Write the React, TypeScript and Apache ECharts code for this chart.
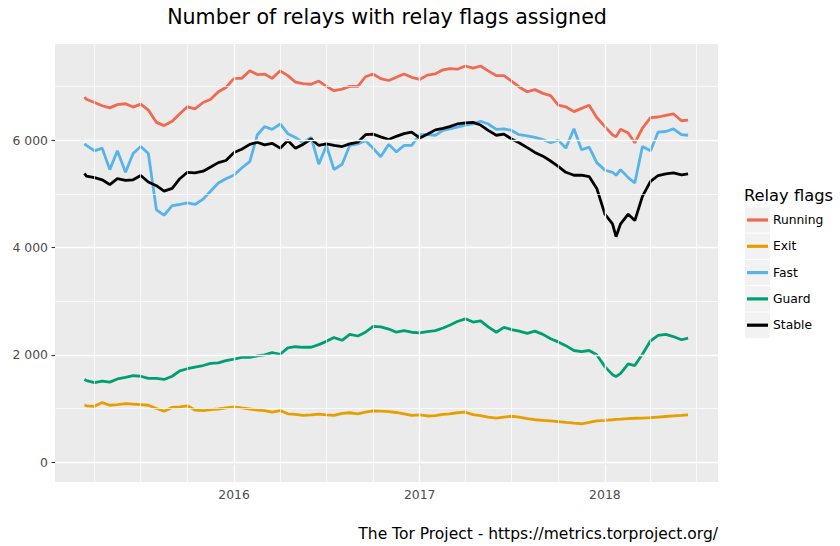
import React, { useEffect, useRef } from "react";
import * as echarts from "echarts";

const dates = [
  "2015-03-12", "2015-03-16", "2015-04-01", "2015-04-16", "2015-05-01", "2015-05-16", "2015-06-01", "2015-06-16",
  "2015-07-01", "2015-07-16", "2015-08-01", "2015-08-16", "2015-09-01", "2015-09-16", "2015-10-01", "2015-10-16",
  "2015-11-01", "2015-11-16", "2015-12-01", "2015-12-16",
  "2016-01-01", "2016-01-16", "2016-02-01", "2016-02-16", "2016-03-01", "2016-03-16", "2016-04-01", "2016-04-16",
  "2016-05-01", "2016-05-16", "2016-06-01", "2016-06-16", "2016-07-01", "2016-07-16", "2016-08-01", "2016-08-16",
  "2016-09-01", "2016-09-16", "2016-10-01", "2016-10-16", "2016-11-01", "2016-11-16", "2016-12-01", "2016-12-16",
  "2017-01-01", "2017-01-16", "2017-02-01", "2017-02-16", "2017-03-01", "2017-03-16", "2017-04-01", "2017-04-16",
  "2017-05-01", "2017-05-16", "2017-06-01", "2017-06-16", "2017-07-01", "2017-07-16", "2017-08-01", "2017-08-16",
  "2017-09-01", "2017-09-16", "2017-10-01", "2017-10-16", "2017-11-01", "2017-11-16", "2017-12-01", "2017-12-16",
  "2018-01-01", "2018-01-16", "2018-01-23", "2018-02-01", "2018-02-16", "2018-03-01", "2018-03-16", "2018-04-01",
  "2018-04-16", "2018-05-01", "2018-05-16", "2018-06-01", "2018-06-14",
];

const running = [
  6800, 6760, 6700, 6640, 6600, 6660, 6677, 6615, 6670, 6560, 6330, 6270, 6350, 6491, 6620, 6580, 6700, 6760, 6900, 6980,
  7150, 7150, 7290, 7220, 7230, 7150, 7290, 7200, 7080, 7050, 7040, 7100, 7000, 6920, 6950, 7000, 7000, 7180, 7230, 7145,
  7110, 7170, 7230, 7170,
  7130, 7210, 7235, 7310, 7330, 7320, 7380, 7340, 7380, 7290, 7200, 7200, 7100, 6990, 6900, 6940, 6870, 6830, 6650, 6620,
  6530, 6590, 6650, 6420,
  6250, 6100, 6060, 6200, 6130, 5950, 6220, 6420, 6430, 6460, 6490, 6360, 6370,
];

const exitFlag = [
  1066, 1050, 1040, 1110, 1060, 1070, 1090, 1080, 1070, 1060, 1000, 950, 1020, 1030, 1050, 970, 960, 980, 990, 1010,
  1030, 1010, 990, 970, 960, 930, 960, 900, 890, 870, 880, 895, 880, 870, 910, 920, 900, 930, 955, 950, 940, 925, 900, 870,
  880, 860, 865, 890, 900, 920, 930, 885, 865, 840, 820, 840, 855, 840, 810, 790, 780, 770, 755, 740, 725, 715, 740, 770,
  780, 790, 795, 800, 810, 818, 820, 830, 840, 850, 860, 870, 880,
];

const fast = [
  5930, 5900, 5800, 5850, 5450, 5800, 5400, 5750, 5880, 5750, 4700, 4600, 4780, 4800, 4830, 4800, 4900, 5050, 5200, 5280,
  5350, 5480, 5600, 6100, 6250, 6200, 6300, 6120, 6050, 5950, 6050, 5550, 5900, 5450, 5550, 5900, 5930, 5990, 5850, 5690,
  5920, 5780, 5900, 5900,
  6100, 6100, 6090, 6180, 6210, 6240, 6280, 6300, 6350, 6300, 6200, 6210, 6180, 6100, 6080, 6050, 6010, 5950, 6000, 5850,
  6210, 5820, 5870, 5580,
  5440, 5400, 5344, 5450, 5300, 5200, 5880, 5800, 6150, 6160, 6210, 6100, 6090,
];

const guard = [
  1540, 1520, 1480, 1510, 1490, 1550, 1580, 1610, 1600, 1560, 1560, 1540, 1600, 1700, 1740, 1770, 1800, 1840, 1850, 1890,
  1920, 1950, 1950, 1980, 2000, 2040, 2010, 2130, 2150, 2140, 2140, 2190, 2250, 2320, 2270, 2380, 2350, 2420, 2530, 2520,
  2480, 2420, 2450, 2420,
  2410, 2430, 2450, 2500, 2550, 2620, 2670, 2610, 2630, 2520, 2420, 2510, 2470, 2440, 2400, 2440, 2380, 2300, 2240, 2170,
  2080, 2060, 2080, 2000,
  1780, 1630, 1595, 1655, 1830, 1800, 2010, 2260, 2360, 2380, 2340, 2280, 2310,
];

const stable = [
  5380, 5330, 5300, 5260, 5170, 5280, 5250, 5260, 5340, 5220, 5150, 5050, 5100, 5280, 5400, 5390, 5420, 5500, 5580, 5620,
  5770, 5830, 5920, 5960, 5910, 5940, 5850, 5990, 5850, 5920, 6020, 5900, 5930, 5900, 5880, 5930, 5960, 6100, 6110, 6060,
  6010, 6070, 6120, 6150,
  6040, 6110, 6190, 6220, 6250, 6300, 6320, 6330, 6280, 6180, 6090, 6110, 6020, 5950, 5860, 5770, 5700, 5610, 5510, 5400,
  5345, 5345, 5320, 5100,
  4620, 4440, 4200, 4440, 4620, 4500, 4950, 5230, 5340, 5370, 5390, 5350, 5370,
];

const seriesNames = ["Running", "Exit", "Fast", "Guard", "Stable"];
const seriesColors = ["#EE6A50", "#E69F00", "#56B4E9", "#009E73", "#000000"];
const seriesValues = [running, exitFlag, fast, guard, stable];

const yTicks = [0, 2000, 4000, 6000];
const yMinorGrid = [1000, 3000, 5000, 7000];
const xTickDates = ["2016-01-01", "2017-01-01", "2018-01-01"];
const xMinorDates = [
  "2015-04-01", "2015-07-01", "2015-10-01",
  "2016-04-01", "2016-07-01", "2016-10-01",
  "2017-04-01", "2017-07-01", "2017-10-01",
  "2018-04-01", "2018-07-01",
];
const xRange = ["2015-01-13", "2018-08-12"];
const yRange = [-370, 7790];

const titleText = "Number of relays with relay flags assigned";
const captionText = "The Tor Project - https://metrics.torproject.org/";
const legendTitle = "Relay flags";

const toTime = (s: string) => {
  const [y, m, d] = s.split("-").map(Number);
  return Date.UTC(y, m - 1, d);
};

const fmtThousands = (v: number) => String(v).replace(/\B(?=(\d{3})+(?!\d))/g, " ");

const FONT = "DejaVu Sans";

export default function App() {
  const ref = useRef<HTMLDivElement>(null);

  useEffect(() => {
    if (!ref.current) return;
    const chart = echarts.init(ref.current, null, { renderer: "svg" });

    const gridLines: any[] = [];
    yMinorGrid.forEach((v) => gridLines.push({ yAxis: v, lineStyle: { color: "#FFFFFF", width: 0.7, type: "solid" } }));
    xMinorDates.forEach((d) => gridLines.push({ xAxis: toTime(d), lineStyle: { color: "#FFFFFF", width: 0.7, type: "solid" } }));
    yTicks.forEach((v) => gridLines.push({ yAxis: v, lineStyle: { color: "#FFFFFF", width: 1.4, type: "solid" } }));
    xTickDates.forEach((d) => gridLines.push({ xAxis: toTime(d), lineStyle: { color: "#FFFFFF", width: 1.4, type: "solid" } }));

    const keyTop = 207.3;
    const keyPitch = 26.3;
    const keyRects = seriesNames.map((_, i) => ({
      type: "rect",
      z: 1,
      shape: { x: 745, y: keyTop + i * keyPitch, width: 25, height: 25.3 },
      style: { fill: "#F2F2F2" },
    }));

    const option: any = {
      animation: false,
      backgroundColor: "#FFFFFF",
      grid: {
        left: 55,
        right: 122,
        top: 44,
        bottom: 64,
        show: true,
        backgroundColor: "#EBEBEB",
        borderWidth: 0,
      },
      xAxis: {
        type: "value",
        min: toTime(xRange[0]),
        max: toTime(xRange[1]),
        axisLine: { show: false },
        splitLine: { show: false },
        axisTick: {
          show: true,
          length: 3.5,
          lineStyle: { color: "#333333", width: 1.1 },
          customValues: xTickDates.map(toTime),
        },
        axisLabel: {
          show: true,
          color: "#4D4D4D",
          fontSize: 12.4,
          fontFamily: FONT,
          margin: 6,
          customValues: xTickDates.map(toTime),
          formatter: (v: number) => String(new Date(v).getUTCFullYear()),
        },
      },
      yAxis: {
        type: "value",
        min: yRange[0],
        max: yRange[1],
        axisLine: { show: false },
        splitLine: { show: false },
        axisTick: {
          show: true,
          length: 3.5,
          lineStyle: { color: "#333333", width: 1.1 },
          customValues: yTicks,
        },
        axisLabel: {
          show: true,
          color: "#4D4D4D",
          fontSize: 12.4,
          fontFamily: FONT,
          margin: 7,
          customValues: yTicks,
          formatter: (v: number) => fmtThousands(v),
        },
      },
      legend: {
        orient: "vertical",
        left: 747,
        top: 213,
        padding: 0,
        itemGap: 12.3,
        itemWidth: 21,
        itemHeight: 3.2,
        icon: "rect",
        data: seriesNames,
        textStyle: { color: "#000000", fontSize: 12.3, fontFamily: FONT, lineHeight: 14 },
        selectedMode: false,
      },
      graphic: [
        ...keyRects,
        {
          type: "text",
          x: 744,
          y: 195,
          style: {
            text: legendTitle,
            fill: "#000000",
            font: `16.3px "${FONT}"`,
            textVerticalAlign: "middle",
            textAlign: "left",
          },
        },
        {
          type: "text",
          x: 387,
          y: 17,
          style: {
            text: titleText,
            fill: "#000000",
            font: `20.6px "${FONT}"`,
            textVerticalAlign: "middle",
            textAlign: "center",
          },
        },
        {
          type: "text",
          x: 718,
          y: 534,
          style: {
            text: captionText,
            fill: "#000000",
            font: `15.5px "${FONT}"`,
            textVerticalAlign: "middle",
            textAlign: "right",
          },
        },
      ],
      series: [
        {
          type: "line",
          name: "grid",
          z: 1,
          data: [],
          silent: true,
          markLine: {
            silent: true,
            symbol: ["none", "none"],
            label: { show: false },
            emphasis: { disabled: true },
            data: gridLines,
          },
        },
        ...seriesNames.map((name, i) => ({
          type: "line",
          name,
          z: 3,
          showSymbol: false,
          symbol: "none",
          color: seriesColors[i],
          lineStyle: { color: seriesColors[i], width: 2.8 },
          data: dates.map((d, j) => [toTime(d), seriesValues[i][j]]),
        })),
      ],
    };

    chart.setOption(option);
    return () => chart.dispose();
  }, []);

  return (
    <div
      ref={ref}
      style={{ position: "fixed", left: 0, top: 0, width: 840, height: 546, background: "#FFFFFF" }}
    />
  );
}
